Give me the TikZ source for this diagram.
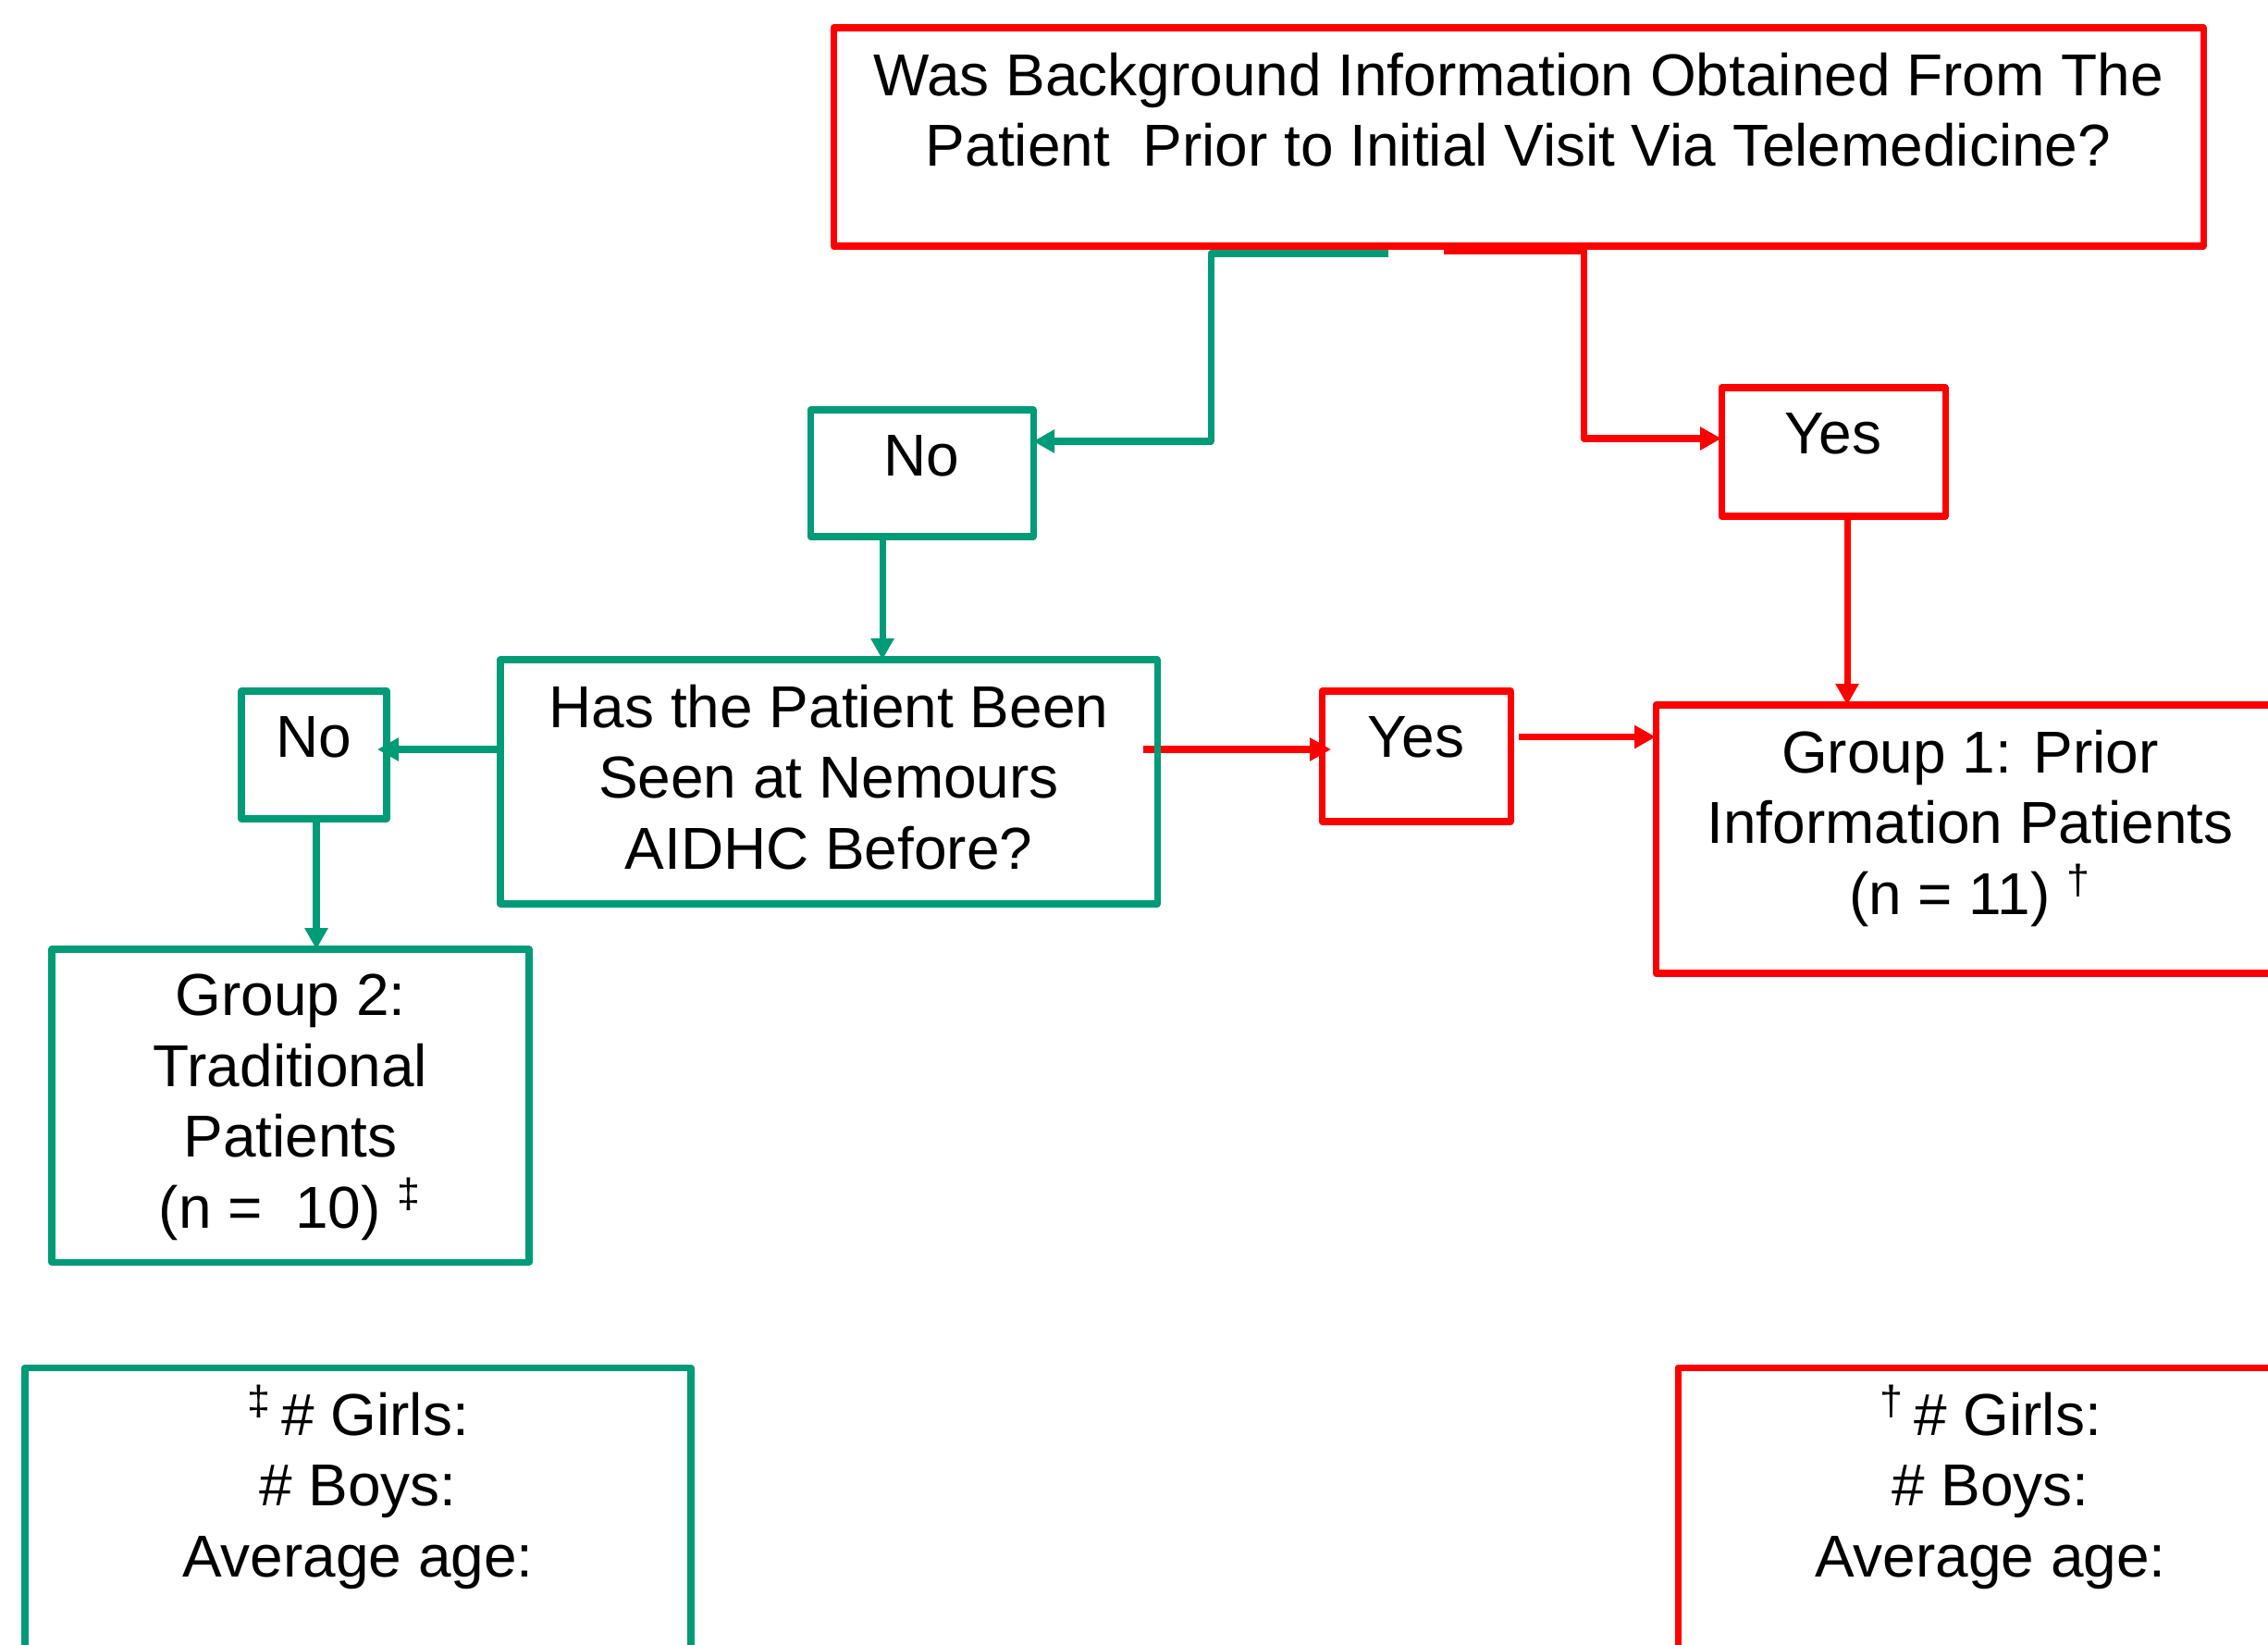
\documentclass[tikz,border=0pt]{standalone}
\usepackage{fontspec}
\setmainfont{Liberation Sans}
\usetikzlibrary{arrows.meta,backgrounds}
\definecolor{nemgreen}{RGB}{0,155,119}
\definecolor{nemred}{RGB}{255,0,0}
% text set at the top of a box of given width and height
\newcommand{\boxtext}[3]{\parbox[c][\dimexpr#2-5.4mm\relax][t]{#1}{\centering #3}}
\newcommand{\footmark}[1]{\smash{\textsuperscript{#1}}}

\begin{document}
\begin{tikzpicture}[
	font=\fontsize{18.2pt}{21.8pt}\selectfont,
	mybox/.style = {
		draw, rectangle, line width=2pt, line join=round,
		inner xsep=0pt, inner ysep=2.7mm, outer sep=0pt},
	gbox/.style = {mybox, draw=nemgreen},
	rbox/.style = {mybox, draw=nemred},
	arrow/.style = {line width=2pt, line join=round,
		-{Triangle[length=2.3mm,width=2.4mm]}},
	garrow/.style = {arrow, nemgreen},
	rarrow/.style = {arrow, nemred}
]
\useasboundingbox (0,0) rectangle (24.52,17.77);

\node (ask)    [rbox] at (16.415,16.29) {\boxtext{14.81cm}{2.36cm}{Was Background Information Obtained From The\\
                                        Patient\ \ Prior to Initial Visit Via Telemedicine?}};
\node (no1)    [gbox] at (9.965,12.655) {\boxtext{2.41cm}{1.37cm}{No}};
\node (yes1)   [rbox] at (19.82,12.885) {\boxtext{2.42cm}{1.39cm}{Yes}};
\node (seen)   [gbox] at (8.96,9.32)    {\boxtext{7.10cm}{2.64cm}{Has the Patient Been\\
                                        Seen at Nemours\\ AIDHC Before?}};
\node (no2)    [gbox] at (3.395,9.61)   {\boxtext{1.57cm}{1.38cm}{No}};
\node (yes2)   [rbox] at (15.31,9.595)  {\boxtext{2.04cm}{1.41cm}{Yes}};
\node (group1) [rbox] at (21.30,8.70)   {\boxtext{6.80cm}{2.90cm}{Group 1: Prior\\
                                        Information Patients\\ (n = 11)~\footmark{†}}};
\node (group2) [gbox] at (3.14,5.82)    {\boxtext{5.16cm}{3.38cm}{Group 2:\\ Traditional\\
                                        Patients\\ (n = \ 10)~\footmark{‡}}};

\node (stats2) [gbox] at (3.87,1.295)   {\boxtext{7.20cm}{3.39cm}{\footmark{‡}\,\# Girls:\\
                                        \# Boys:\\ Average age:}};
\node (stats1) [rbox] at (21.52,1.295)  {\boxtext{6.76cm}{3.39cm}{\footmark{†}\,\# Girls:\\
                                        \# Boys:\\ Average age:}};

\coordinate (gs) at ([xshift=-14.05mm,yshift=-0.8mm]ask.south);
\coordinate (rs) at ([xshift=-8.05mm,yshift=-0.5mm]ask.south);

\draw[garrow] (gs) -- ++(-1.92,0) |- ([yshift=3.45mm]no1.east);
\draw[rarrow] (rs) -- ++(1.51,0)  |- ([yshift=1.45mm]yes1.west);
\draw[garrow] ([xshift=-4.25mm]no1.south) -- ([xshift=-4.25mm]no1.south |- seen.north);
\draw[rarrow] ([xshift=1.5mm]yes1.south)  -- ([xshift=1.5mm]yes1.south |- group1.north);
\draw[garrow, shorten >=-1mm] ([yshift=3.5mm]seen.west) -- ([yshift=3.5mm]seen.west -| no2.east);
\draw[rarrow] ([shift={(0.9mm,2.1mm)}]yes2.east)
                                          -- ([yshift=2.1mm]yes2.east -| group1.west);
\draw[garrow] ([xshift=0.25mm]no2.south)  -- ([xshift=0.25mm]no2.south |- group2.north);

	\begin{scope}[on background layer]
		\draw[rarrow, shorten >=-1mm] ([shift={(-1.5mm,3.5mm)}]seen.east)
		              -- ([yshift=3.5mm]seen.east -| yes2.west);
	\end{scope}
\end{tikzpicture}
\end{document}
